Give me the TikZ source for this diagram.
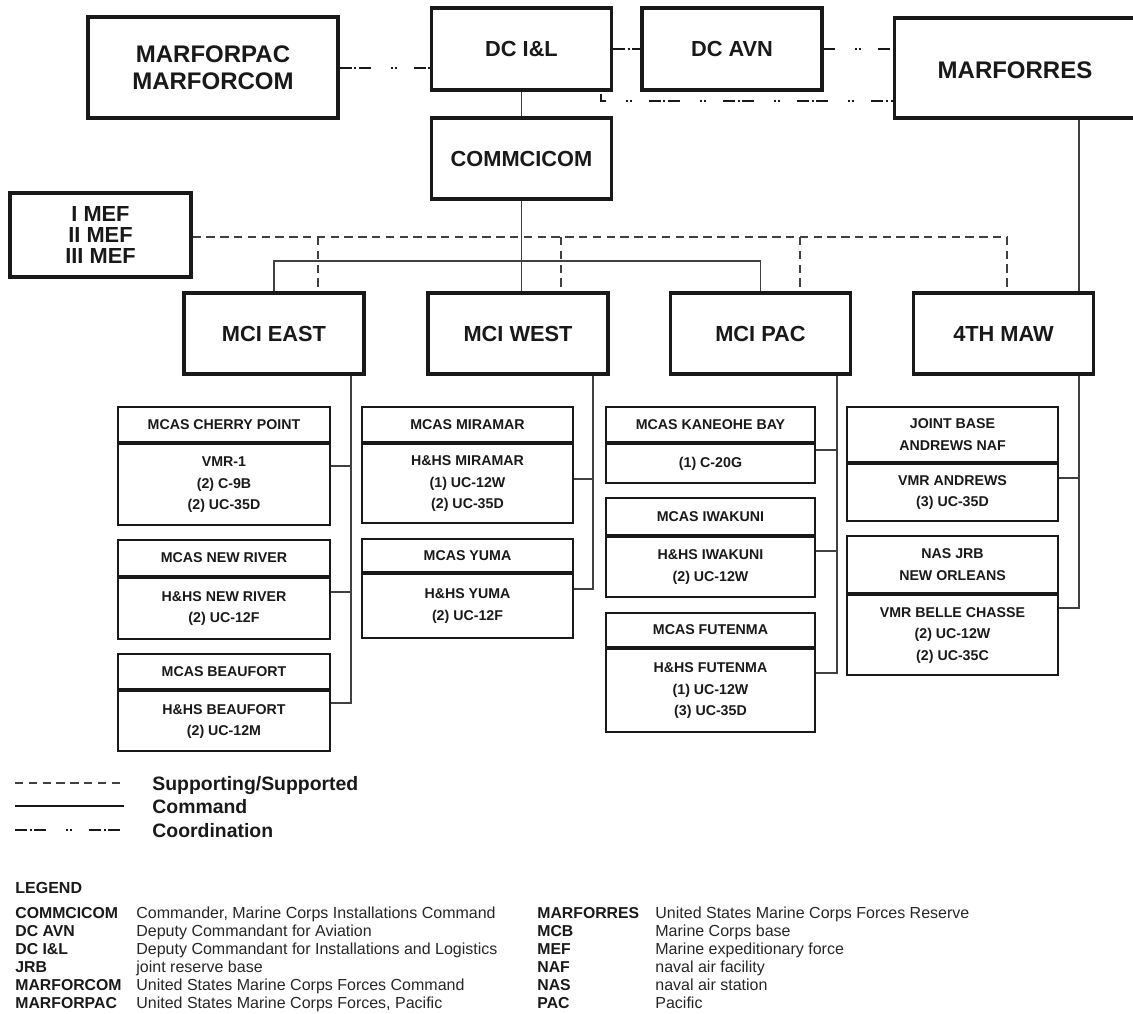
\documentclass[tikz,border=0pt]{standalone}
\usepackage{fontspec}
\setmainfont{Liberation Sans}
\usetikzlibrary{calc}
\begin{document}
\begin{tikzpicture}[x=0.5pt,y=-0.5pt,
  bigbox/.style={draw=black!90, line width=1.6pt, fill=white, inner sep=0pt, text=black!90,
    font=\bfseries\fontsize{10.9}{10.6}\selectfont, align=center, minimum width=90pt, minimum height=40.5pt},
  hdr/.style={draw=black!90, line width=1.1pt, inner sep=0pt, text=black!90,
    font=\bfseries\fontsize{7.1}{10.7}\selectfont, align=center},
  cmd/.style={draw=black!75, line width=0.7pt},
  sup/.style={draw=black!75, line width=0.85pt, dash pattern=on 4.2pt off 2.7pt},
  coord/.style={draw=black!90, line width=1pt,
    dash pattern=on 6pt off 1.3pt on 1pt off 1.3pt on 6pt off 10pt on 1pt off 0.9pt on 1pt off 8.6pt},
  legtxt/.style={anchor=base west, inner sep=0pt, text=black!90, font=\bfseries\fontsize{9.7}{9.7}\selectfont},
  abbr/.style={anchor=base west, inner sep=0pt, text=black!90, font=\bfseries\fontsize{7.9}{7.9}\selectfont},
  desc/.style={anchor=base west, inner sep=0pt, text=black!85, font=\fontsize{8}{8}\selectfont},
]
\useasboundingbox (0,0) rectangle (1133,1013);

% ---------- top level ----------
\node[bigbox, minimum width=125pt, minimum height=50.5pt, font=\bfseries\fontsize{12}{13.5}\selectfont] (mpac) at (213,67.5) {MARFORPAC\\MARFORCOM};
\node[bigbox, minimum width=90pt, minimum height=41pt] (dcil) at (521.5,49) {DC I\&L};
\node[bigbox, minimum width=90pt, minimum height=41pt] (dcavn) at (732,49) {DC AVN};
\node[bigbox, minimum width=129pt, minimum height=50pt, anchor=west] (mres) at (893,68) {};
\node[inner sep=0pt, text=black!90, font=\bfseries\fontsize{12}{12}\selectfont] (mrestxt) at (1015,70) {MARFORRES};
\node[bigbox] (comm) at (521.5,158.5) {COMMCICOM};
\node[bigbox, minimum width=90.5pt, minimum height=42pt] (imef) at (100.5,235) {I MEF\\II MEF\\III MEF};

\node[bigbox] (mcie) at (274,333.5) {MCI EAST};
\node[bigbox] (mciw) at (518,333.5) {MCI WEST};
\node[bigbox] (mcip) at (760.5,333.5) {MCI PAC};
\node[bigbox] (maw) at (1003.5,333.5) {4TH MAW};

% coordination
\draw[coord] (mpac.east) -- (mpac.east -| dcil.west);
\draw[coord] (dcil.east) -- (dcavn.west);
\draw[coord, dash phase=9.75pt] (dcavn.east) -- (dcavn.east -| mres.west);
\coordinate (lc) at (601,101);
\draw[coord, dash phase=8.5pt] (dcil.south -| lc) -- (lc) -- (lc -| mres.west);

% command
\draw[cmd] (dcil.south) -- (comm.north);
\draw[cmd] (comm.south) -- (comm.south |- mciw.north);
\coordinate (hb) at (0,261);
\draw[cmd] (mcie.north) -- (mcie.north |- hb) -- (mcip.north |- hb) -- (mcip.north);
\coordinate (rd) at (1079,0);
\draw[cmd] (mres.south -| rd) -- (maw.north -| rd);

% supporting
\coordinate (s1) at (318,237);
\coordinate (s2) at (561,237);
\coordinate (s3) at (800,237);
\coordinate (s4) at (1007,237);
\draw[sup] (imef.east |- s1) -- (s4) -- (s4 |- maw.north);
\draw[sup] (s1) -- (s1 |- mcie.north);
\draw[sup] (s2) -- (s2 |- mciw.north);
\draw[sup] (s3) -- (s3 |- mcip.north);

% ---------- east column ----------
\node[hdr, minimum width=106pt, minimum height=17.5pt] (cph) at (224,424.5) {MCAS CHERRY POINT};
\node[hdr, minimum width=106pt, minimum height=40.5pt, anchor=north] (cpb) at (cph.south) {VMR-1\\(2) C-9B\\(2) UC-35D};
\node[hdr, minimum width=106pt, minimum height=18pt] (nrh) at (224,558) {MCAS NEW RIVER};
\node[hdr, minimum width=106pt, minimum height=30.5pt, anchor=north] (nrb) at (nrh.south) {H\&HS NEW RIVER\\(2) UC-12F};
\node[hdr, minimum width=106pt, minimum height=17.5pt] (bfh) at (224,671.5) {MCAS BEAUFORT};
\node[hdr, minimum width=106pt, minimum height=30pt, anchor=north] (bfb) at (bfh.south) {H\&HS BEAUFORT\\(2) UC-12M};

\coordinate (es1) at (351,466);
\coordinate (es2) at (351,592);
\coordinate (es3) at (351,703);
\draw[cmd] (mcie.south -| es3) -- (es3) -- (es3 -| bfb.east);
\draw[cmd] (es1 -| cpb.east) -- (es1);
\draw[cmd] (es2 -| nrb.east) -- (es2);

% ---------- west column ----------
\node[hdr, minimum width=105.5pt, minimum height=17.5pt] (mirh) at (467.5,424.5) {MCAS MIRAMAR};
\node[hdr, minimum width=105.5pt, minimum height=39.5pt, anchor=north] (mirb) at (mirh.south) {H\&HS MIRAMAR\\(1) UC-12W\\(2) UC-35D};
\node[hdr, minimum width=105.5pt, minimum height=16.5pt] (yuh) at (467.5,555.5) {MCAS YUMA};
\node[hdr, minimum width=105.5pt, minimum height=32pt, anchor=north] (yub) at (yuh.south) {H\&HS YUMA\\(2) UC-12F};

\coordinate (ws1) at (593,479);
\coordinate (ws2) at (593,589);
\draw[cmd] (mciw.south -| ws2) -- (ws2) -- (ws2 -| yub.east);
\draw[cmd] (ws1 -| mirb.east) -- (ws1);

% ---------- pac column ----------
\node[hdr, minimum width=104.5pt, minimum height=17.5pt] (kah) at (710.5,424.5) {MCAS KANEOHE BAY};
\node[hdr, minimum width=104.5pt, minimum height=19.5pt, anchor=north] (kab) at (kah.south) {(1) C-20G};
\node[hdr, minimum width=104.5pt, minimum height=18.5pt] (iwh) at (710.5,516.5) {MCAS IWAKUNI};
\node[hdr, minimum width=104.5pt, minimum height=30pt, anchor=north] (iwb) at (iwh.south) {H\&HS IWAKUNI\\(2) UC-12W};
\node[hdr, minimum width=104.5pt, minimum height=17pt] (fuh) at (710.5,630) {MCAS FUTENMA};
\node[hdr, minimum width=104.5pt, minimum height=41.5pt, anchor=north] (fub) at (fuh.south) {H\&HS FUTENMA\\(1) UC-12W\\(3) UC-35D};

\coordinate (ps1) at (837,450);
\coordinate (ps2) at (837,551);
\coordinate (ps3) at (837,673);
\draw[cmd] (mcip.south -| ps3) -- (ps3) -- (ps3 -| fub.east);
\draw[cmd] (ps1 -| kab.east) -- (ps1);
\draw[cmd] (ps2 -| iwb.east) -- (ps2);

% ---------- 4th MAW column ----------
\node[hdr, minimum width=105.5pt, minimum height=27.5pt] (jbh) at (952.5,434.5) {JOINT BASE\\ANDREWS NAF};
\node[hdr, minimum width=105.5pt, minimum height=28.5pt, anchor=north] (jbb) at (jbh.south) {VMR ANDREWS\\(3) UC-35D};
\node[hdr, minimum width=105.5pt, minimum height=28.5pt] (nah) at (952.5,564.5) {NAS JRB\\NEW ORLEANS};
\node[hdr, minimum width=105.5pt, minimum height=40pt, anchor=north] (nab) at (nah.south) {VMR BELLE CHASSE\\(2) UC-12W\\(2) UC-35C};

\coordinate (ms1) at (1079,478);
\coordinate (ms2) at (1079,608);
\draw[cmd] (maw.south -| ms2) -- (ms2) -- (ms2 -| nab.east);
\draw[cmd] (ms1 -| jbb.east) -- (ms1);

% ---------- line legend ----------
\coordinate (la1) at (15,783);  \coordinate (lb1) at (124,783);
\coordinate (la2) at (15,806);  \coordinate (lb2) at (124,806);
\coordinate (la3) at (15,830);  \coordinate (lb3) at (124,830);
\draw[sup, line width=1pt] (la1) -- (lb1);
\draw[draw=black!90, line width=1.3pt] (la2) -- (lb2);
\draw[coord] (la3) -- (lb3);
\node[legtxt] (lt1) at (152,790) {Supporting/Supported};
\node[legtxt] (lt2) at (152,813) {Command};
\node[legtxt] (lt3) at (152,837) {Coordination};

% ---------- abbreviation legend ----------
\node[abbr, font=\bfseries\fontsize{8}{8}\selectfont] (leg) at (15,893) {LEGEND};

\node[abbr] (a1) at (15,918) {COMMCICOM};
\node[abbr] (a2) at (15,936) {DC AVN};
\node[abbr] (a3) at (15,954.5) {DC I\&L};
\node[abbr] (a4) at (15,972.5) {JRB};
\node[abbr] (a5) at (15,990.5) {MARFORCOM};
\node[abbr] (a6) at (15,1008.5) {MARFORPAC};
\node[desc] (d1) at (136,918) {Commander, Marine Corps Installations Command};
\node[desc] (d2) at (136,936) {Deputy Commandant for Aviation};
\node[desc] (d3) at (136,954.5) {Deputy Commandant for Installations and Logistics};
\node[desc] (d4) at (136,972.5) {joint reserve base};
\node[desc] (d5) at (136,990.5) {United States Marine Corps Forces Command};
\node[desc] (d6) at (136,1008.5) {United States Marine Corps Forces, Pacific};

\node[abbr] (b1) at (537,918) {MARFORRES};
\node[abbr] (b2) at (537,936) {MCB};
\node[abbr] (b3) at (537,954.5) {MEF};
\node[abbr] (b4) at (537,972.5) {NAF};
\node[abbr] (b5) at (537,990.5) {NAS};
\node[abbr] (b6) at (537,1008.5) {PAC};
\node[desc] (e1) at (655,918) {United States Marine Corps Forces Reserve};
\node[desc] (e2) at (655,936) {Marine Corps base};
\node[desc] (e3) at (655,954.5) {Marine expeditionary force};
\node[desc] (e4) at (655,972.5) {naval air facility};
\node[desc] (e5) at (655,990.5) {naval air station};
\node[desc] (e6) at (655,1008.5) {Pacific};
\end{tikzpicture}
\end{document}
